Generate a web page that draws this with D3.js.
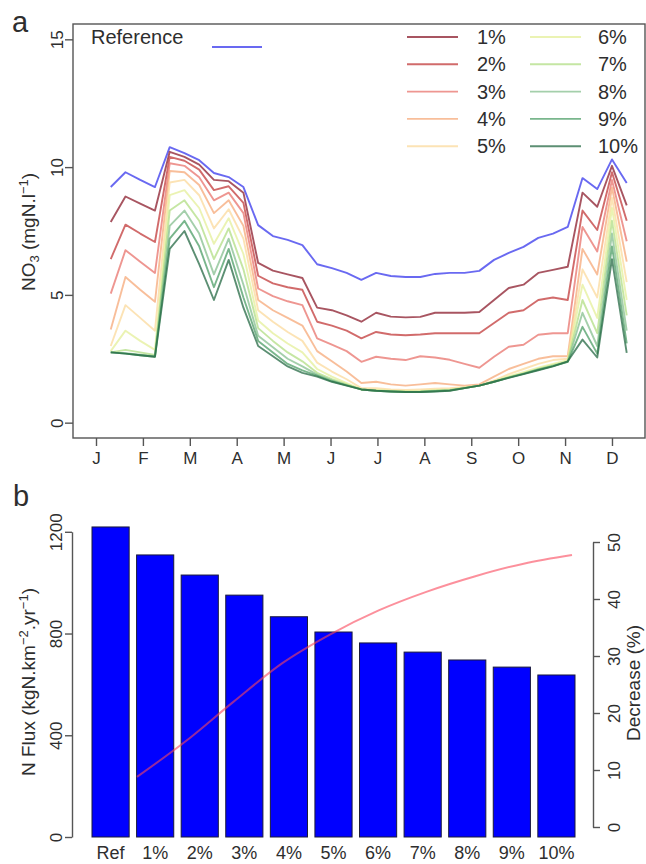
<!DOCTYPE html>
<html>
<head>
<meta charset="utf-8">
<script src="https://cdn.jsdelivr.net/npm/d3@7"></script>
<style>
  body { margin: 0; background: #fff; }
  svg text { font-family: "Liberation Sans", Arial, sans-serif; fill: #2e2e2e; }
</style>
</head>
<body>
<div id="chart"></div>
<script>
// Size of the page
const width = 646;
const height = 864;

// Panel a data: 10-day steps (index 2..37), NO3 in mgN/l
const steps = d3.range(2, 38);
const monthLabels = ["J", "F", "M", "A", "M", "J", "J", "A", "S", "O", "N", "D"];
const seriesNames = ["Reference", "1%", "2%", "3%", "4%", "5%", "6%", "7%", "8%", "9%", "10%"];

const refValues = [9.22, 9.8, 9.5, 9.22, 10.78, 10.55, 10.27, 9.77, 9.61, 9.22, 7.73, 7.3, 7.15, 6.95, 6.2, 6.05, 5.86, 5.59, 5.86, 5.74, 5.7, 5.7, 5.82, 5.86, 5.86, 5.94, 6.37, 6.64, 6.88, 7.23, 7.4, 7.66, 9.57, 9.14, 10.3, 9.38];
const p1Values = [7.85, 8.85, 8.57, 8.3, 10.6, 10.4, 10.1, 9.5, 9.45, 9.0, 6.25, 5.95, 5.8, 5.66, 4.5, 4.4, 4.2, 3.95, 4.3, 4.15, 4.12, 4.14, 4.3, 4.3, 4.3, 4.33, 4.8, 5.27, 5.4, 5.86, 5.98, 6.1, 9.0, 8.45, 10.05, 8.5];
const p2Values = [6.4, 7.75, 7.4, 7.07, 10.4, 10.25, 9.9, 9.1, 9.25, 8.6, 5.75, 5.45, 5.3, 5.2, 3.95, 3.8, 3.6, 3.3, 3.55, 3.45, 3.42, 3.45, 3.5, 3.5, 3.5, 3.5, 3.9, 4.3, 4.4, 4.8, 4.9, 4.8, 8.3, 7.54, 9.8, 7.9];
const p3Values = [5.05, 6.75, 6.3, 5.86, 10.15, 10.05, 9.6, 8.7, 9.0, 8.2, 5.25, 4.95, 4.75, 4.6, 3.3, 3.05, 2.8, 2.38, 2.58, 2.5, 2.45, 2.6, 2.55, 2.46, 2.3, 2.15, 2.58, 2.97, 3.05, 3.44, 3.5, 3.5, 7.66, 6.7, 9.5, 7.1];
const p4Values = [3.65, 5.7, 5.2, 4.73, 9.85, 9.8, 9.3, 8.2, 8.7, 7.7, 4.8, 4.4, 4.1, 3.8, 2.8, 2.4, 2.0, 1.55, 1.6, 1.5, 1.45, 1.5, 1.55, 1.5, 1.45, 1.5, 1.8, 2.1, 2.3, 2.5, 2.6, 2.6, 6.8, 5.8, 9.2, 6.3];
const p5Values = [3.0, 4.6, 4.1, 3.6, 9.4, 9.5, 8.9, 7.6, 8.35, 7.2, 4.4, 3.95, 3.55, 3.2, 2.35, 2.0, 1.7, 1.35, 1.35, 1.3, 1.28, 1.3, 1.33, 1.35, 1.4, 1.45, 1.65, 1.9, 2.1, 2.3, 2.45, 2.5, 6.0, 4.9, 8.8, 5.5];
const p6Values = [2.8, 3.6, 3.2, 2.85, 8.9, 9.1, 8.4, 7.0, 8.0, 6.6, 4.0, 3.5, 3.1, 2.75, 2.1, 1.8, 1.55, 1.3, 1.28, 1.25, 1.23, 1.24, 1.27, 1.3, 1.37, 1.45, 1.62, 1.82, 1.98, 2.15, 2.3, 2.45, 5.4, 4.1, 8.4, 4.8];
const p7Values = [2.75, 2.85, 2.75, 2.65, 8.3, 8.7, 7.9, 6.4, 7.6, 6.0, 3.7, 3.2, 2.75, 2.4, 1.95, 1.7, 1.5, 1.3, 1.26, 1.23, 1.21, 1.22, 1.25, 1.28, 1.36, 1.45, 1.6, 1.78, 1.93, 2.1, 2.25, 2.4, 4.8, 3.5, 7.9, 4.2];
const p8Values = [2.75, 2.72, 2.66, 2.6, 7.7, 8.3, 7.4, 5.8, 7.2, 5.4, 3.4, 2.95, 2.5, 2.2, 1.88, 1.65, 1.47, 1.3, 1.25, 1.22, 1.2, 1.21, 1.24, 1.27, 1.35, 1.45, 1.6, 1.77, 1.92, 2.08, 2.22, 2.38, 4.3, 3.0, 7.4, 3.6];
const p9Values = [2.75, 2.7, 2.64, 2.58, 7.2, 7.9, 6.9, 5.3, 6.8, 4.9, 3.2, 2.75, 2.3, 2.05, 1.84, 1.62, 1.46, 1.3, 1.25, 1.22, 1.2, 1.2, 1.23, 1.26, 1.35, 1.45, 1.6, 1.76, 1.91, 2.07, 2.21, 2.38, 3.75, 2.7, 6.9, 3.1];
const p10Values = [2.75, 2.7, 2.64, 2.58, 6.8, 7.5, 6.2, 4.8, 6.37, 4.5, 3.0, 2.6, 2.2, 1.95, 1.8, 1.6, 1.45, 1.3, 1.25, 1.22, 1.2, 1.2, 1.22, 1.25, 1.35, 1.45, 1.6, 1.75, 1.9, 2.05, 2.2, 2.4, 3.25, 2.55, 6.4, 2.73];

const seriesColors = ["#4444ee", "#8b1c2c", "#c23a3a", "#e8736c", "#f5a878", "#fbd99c", "#e4ef9a", "#b2dd84", "#86bf8f", "#4c9d66", "#256944"];

// Panel b data
const barLabels = ["Ref", "1%", "2%", "3%", "4%", "5%", "6%", "7%", "8%", "9%", "10%"];
const fluxValues = [1219, 1109, 1030, 951, 866, 806, 763, 727, 696, 668, 637];
const decreaseValues = [8.8, 15, 22, 28.7, 33.8, 38, 41.3, 44, 46.2, 47.7];

const svg = d3.select("#chart")
    .append("svg")
    .attr("width", width)
    .attr("height", height);

svg.append("rect").attr("width", width).attr("height", height).attr("fill", "#fff");

// ---------- Panel a ----------
const ax = { left: 73, right: 645, top: 24, bottom: 438 };

const xScale = d3.scaleLinear()
    .domain([-0.56, 38.24])
    .range([ax.left, ax.right]);

const yScale = d3.scaleLinear()
    .domain([-0.6, 15.6])
    .range([ax.bottom, ax.top]);

const monthTicks = monthLabels.map((m, i) => 1 + i * 35 / 11);

const seriesList = [refValues, p1Values, p2Values, p3Values, p4Values, p5Values,
    p6Values, p7Values, p8Values, p9Values, p10Values];

const line = d3.line()
    .x((d, i) => xScale(steps[i]))
    .y(d => yScale(d));

svg.append("g")
    .selectAll("path")
    .data(seriesList)
    .enter()
    .append("path")
    .attr("d", d => line(d))
    .attr("fill", "none")
    .attr("stroke", (d, i) => seriesColors[i])
    .attr("stroke-width", 1.9)
    .attr("stroke-opacity", (d, i) => i === 0 ? 0.8 : 0.75)
    .attr("stroke-linejoin", "round");

// box
svg.append("rect")
    .attr("x", ax.left)
    .attr("y", ax.top)
    .attr("width", ax.right - ax.left)
    .attr("height", ax.bottom - ax.top)
    .attr("fill", "none")
    .attr("stroke", "#555")
    .attr("stroke-width", 1.4);

// y axis (rotated labels, R style)
const yAxisA = svg.append("g")
    .attr("transform", `translate(${ax.left},0)`)
    .call(d3.axisLeft(yScale).tickValues([0, 5, 10, 15]).tickSize(8).tickSizeOuter(0));
yAxisA.select(".domain").remove();
yAxisA.selectAll("line").attr("stroke", "#555").attr("stroke-width", 1.4);
yAxisA.selectAll("text")
    .attr("transform", "rotate(-90)")
    .attr("x", 0).attr("y", -10).attr("dy", 0)
    .attr("text-anchor", "middle")
    .style("font-size", "17px");

// x axis with month letters
const xAxisA = svg.append("g")
    .attr("transform", `translate(0,${ax.bottom})`)
    .call(d3.axisBottom(xScale).tickValues(monthTicks).tickFormat((d, i) => monthLabels[i]).tickSize(8).tickSizeOuter(0));
xAxisA.select(".domain").remove();
xAxisA.selectAll("line").attr("stroke", "#555").attr("stroke-width", 1.4);
xAxisA.selectAll("text").attr("y", 14).style("font-size", "17px");

// y title
svg.append("text")
    .attr("transform", "translate(35,232) rotate(-90)")
    .attr("text-anchor", "middle")
    .style("font-size", "19px")
    .html('NO<tspan dy="4" font-size="13px">3</tspan><tspan dy="-4"> (mgN.l</tspan><tspan dy="-7" font-size="13px">\u2212</tspan><tspan font-size="13px">1</tspan><tspan dy="7">)</tspan>');

// panel label
svg.append("text").attr("x", 12).attr("y", 32).style("font-size", "29px").text("a");

// legend: reference
svg.append("text").attr("x", 91).attr("y", 44).style("font-size", "20px").text("Reference");
svg.append("line")
    .attr("x1", 212).attr("x2", 262).attr("y1", 47).attr("y2", 47)
    .attr("stroke", seriesColors[0]).attr("stroke-width", 1.9).attr("stroke-opacity", 0.8);

// legend: scenarios in two columns
const legend = svg.append("g");
seriesNames.slice(1).forEach((name, i) => {
    const col = Math.floor(i / 5);
    const row = i % 5;
    const y = 37 + row * 27.3;
    const x0 = col === 0 ? 407 : 530;
    legend.append("line")
        .attr("x1", x0).attr("x2", x0 + 51).attr("y1", y).attr("y2", y)
        .attr("stroke", seriesColors[i + 1]).attr("stroke-width", 1.9).attr("stroke-opacity", 0.75);
    legend.append("text")
        .attr("x", col === 0 ? 477 : 598).attr("y", y + 7)
        .style("font-size", "20px")
        .text(name);
});

// ---------- Panel b ----------
const bx = { left: 72, right: 593, bottom: 837 };

const xBand = d3.scaleBand()
    .domain(barLabels)
    .range([92, 575])
    .paddingInner(0.2 / 1.2)
    .paddingOuter(0);

const yFlux = d3.scaleLinear()
    .domain([0, 1200])
    .range([bx.bottom, 531.8]);

const yDec = d3.scaleLinear()
    .domain([0, 50])
    .range([827, 542]);

const xLine = d3.scaleLinear()
    .domain([1, 10])
    .range([137, 572]);

svg.append("g")
    .selectAll("rect")
    .data(fluxValues)
    .enter()
    .append("rect")
    .attr("x", (d, i) => xBand(barLabels[i]))
    .attr("y", d => yFlux(d))
    .attr("width", xBand.bandwidth())
    .attr("height", d => yFlux(0) - yFlux(d))
    .attr("fill", "#0000ff")
    .attr("stroke", "#1a1a3a")
    .attr("stroke-width", 1);

// decrease line
svg.append("path")
    .attr("d", d3.line().curve(d3.curveMonotoneX)
        .x((d, i) => xLine(i + 1))
        .y(d => yDec(d))(decreaseValues))
    .attr("fill", "none")
    .attr("stroke", "rgb(250,70,90)")
    .attr("stroke-opacity", 0.6)
    .attr("stroke-width", 2);

// bar labels
svg.append("g")
    .selectAll("text")
    .data(barLabels)
    .enter()
    .append("text")
    .attr("x", d => xBand(d) + xBand.bandwidth() / 2)
    .attr("y", 859)
    .attr("text-anchor", "middle")
    .style("font-size", "18px")
    .text(d => d);

// left axis
const yAxisB = svg.append("g")
    .attr("transform", `translate(${bx.left},0)`)
    .call(d3.axisLeft(yFlux).tickValues([0, 400, 800, 1200]).tickFormat(d3.format("d")).tickSize(7).tickSizeOuter(0));
yAxisB.select(".domain").attr("stroke", "#555").attr("stroke-width", 1.4);
yAxisB.selectAll("line").attr("stroke", "#555").attr("stroke-width", 1.4);
yAxisB.selectAll("text")
    .attr("transform", "rotate(-90)")
    .attr("x", 0).attr("y", -10).attr("dy", 0)
    .attr("text-anchor", "middle")
    .style("font-size", "17px");

// right axis
const yAxisR = svg.append("g")
    .attr("transform", `translate(${bx.right},0)`)
    .call(d3.axisRight(yDec).tickValues([0, 10, 20, 30, 40, 50]).tickSize(7).tickSizeOuter(0));
yAxisR.select(".domain").attr("stroke", "#555").attr("stroke-width", 1.4);
yAxisR.selectAll("line").attr("stroke", "#555").attr("stroke-width", 1.4);
yAxisR.selectAll("text")
    .attr("transform", "rotate(-90)")
    .attr("x", 0).attr("y", 27).attr("dy", 0)
    .attr("text-anchor", "middle")
    .style("font-size", "17px");

// axis titles
svg.append("text")
    .attr("transform", "translate(35,682) rotate(-90)")
    .attr("text-anchor", "middle")
    .style("font-size", "19px")
    .html('N Flux (kgN.km<tspan dy="-7" font-size="13px">\u22122</tspan><tspan dy="7">.yr</tspan><tspan dy="-7" font-size="13px">\u22121</tspan><tspan dy="7">)</tspan>');

svg.append("text")
    .attr("transform", "translate(640,683) rotate(-90)")
    .attr("text-anchor", "middle")
    .style("font-size", "19px")
    .text("Decrease (%)");

svg.append("text").attr("x", 13).attr("y", 506).style("font-size", "29px").text("b");
</script>
</body>
</html>
